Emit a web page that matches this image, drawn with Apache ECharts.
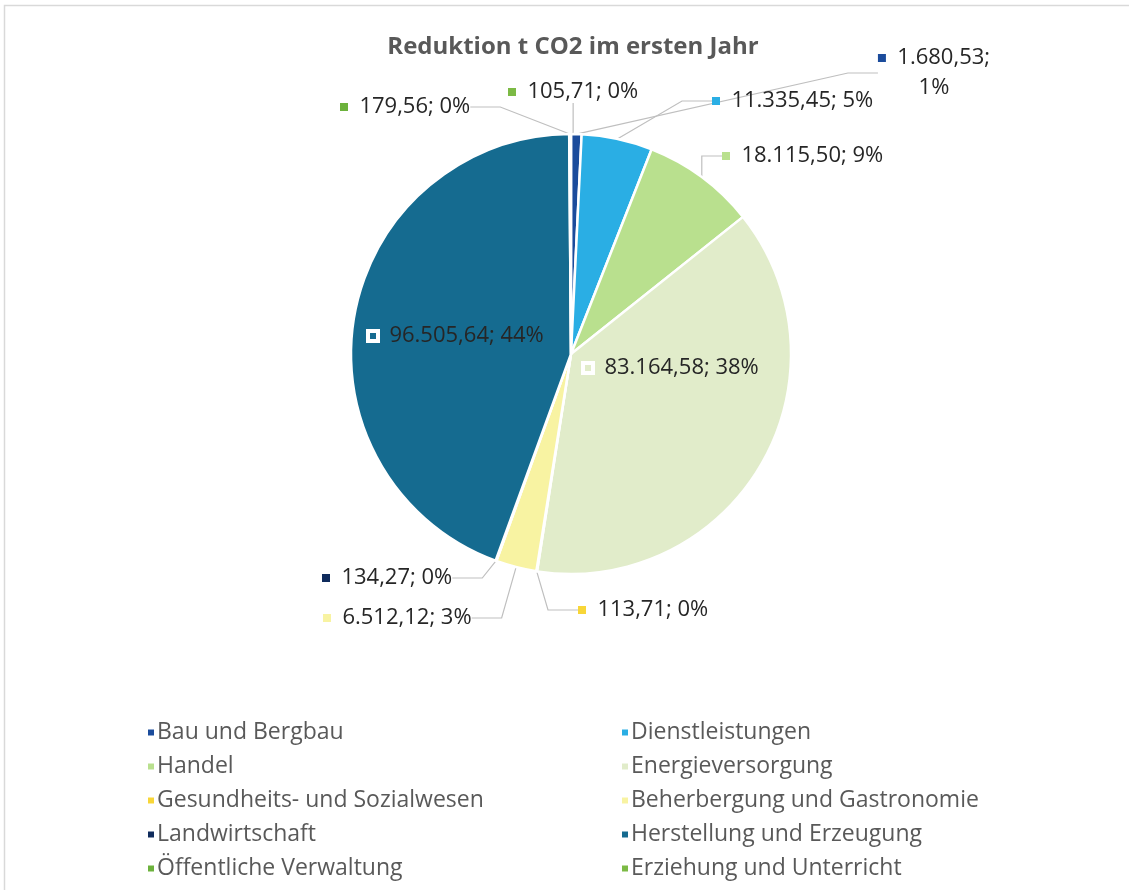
<!DOCTYPE html>
<html>
<head>
    <meta charset="utf-8"/>
    <title>Reduktion t CO2 im ersten Jahr</title>
    <script src="https://cdn.jsdelivr.net/npm/echarts@6/dist/echarts.min.js"></script>
    <style>
        html, body { margin: 0; padding: 0; background: #fff; }
        #chart { width: 1129px; height: 890px; }
    </style>
</head>
<body>
<div id="chart"></div>
<script>
    // Daten
    var branchen = ['Bau und Bergbau', 'Dienstleistungen', 'Handel', 'Energieversorgung',
        'Gesundheits- und Sozialwesen', 'Beherbergung und Gastronomie', 'Landwirtschaft',
        'Herstellung und Erzeugung', 'Öffentliche Verwaltung', 'Erziehung und Unterricht'];
    var reduktion = [1680.53, 11335.45, 18115.50, 83164.58, 113.71, 6512.12, 134.27, 96505.64, 179.56, 105.71];
    var farben = ['#1b4c9c', '#2aaee4', '#b9e08e', '#e1ecca', '#f8d638', '#f8f3a2',
        '#0f2b5c', '#156b90', '#6cb23c', '#7cba45'];

    // Label-Positionen (Pixel), wie in der Vorlage
    var labelPos = [[934, 73], [712, 101], [722, 156], [583, 368], [578, 610],
        [323, 618], [322, 578], [368, 336], [340, 107], [508, 92]];
    var innen = [3, 7];

    function zahlDE(v) {
        var teile = v.toFixed(2).split('.');
        var ganz = teile[0].replace(/\B(?=(\d{3})+(?!\d))/g, '.');
        return ganz + ',' + teile[1];
    }

    var rich = {
        v: { fontSize: 22, color: '#262626', fontFamily: 'Open Sans', lineHeight: 30 },
        w: { width: 10, height: 10, borderColor: '#fff', borderWidth: 2, backgroundColor: 'transparent' }
    };
    farben.forEach(function (c, i) {
        rich['m' + i] = { width: 8, height: 8, backgroundColor: c };
    });

    var daten = branchen.map(function (n, i) {
        var item = { name: n, value: reduktion[i], itemStyle: { color: farben[i] } };
        if (innen.indexOf(i) >= 0) {
            item.label = { position: 'inside' };
        }
        return item;
    });

    var chart = echarts.init(document.getElementById('chart'));
    var legendStyle = {
        orient: 'vertical',
        top: 716,
        itemWidth: 8,
        itemHeight: 8,
        itemGap: 11,
        icon: 'rect',
        textStyle: { fontSize: 23, color: '#595959', fontFamily: 'Open Sans', padding: [0, 0, 0, -3] }
    };

    chart.setOption({
        animation: false,
        title: {
            text: 'Reduktion t CO2 im ersten Jahr',
            left: 568,
            textAlign: 'center',
            top: 30,
            textStyle: { fontSize: 24, fontWeight: 'bold', color: '#595959', fontFamily: 'Open Sans' }
        },
        graphic: [{
            type: 'rect',
            shape: { x: 4.5, y: 5.5, width: 1140, height: 900 },
            style: { fill: 'none', stroke: '#d9d9d9', lineWidth: 1.5 },
            silent: true
        }],
        legend: [
            Object.assign({ left: 141, data: branchen.filter(function (b, i) { return i % 2 === 0; }) }, legendStyle),
            Object.assign({ left: 615, data: branchen.filter(function (b, i) { return i % 2 === 1; }) }, legendStyle)
        ],
        series: [{
            type: 'pie',
            center: [571, 354],
            radius: 220,
            startAngle: 90,
            percentPrecision: 0,
            itemStyle: { borderColor: '#fff', borderWidth: 2.5 },
            label: {
                position: 'outside',
                rich: rich,
                formatter: function (p) {
                    var i = p.dataIndex;
                    var txt = zahlDE(p.value) + '; ' + p.percent + '%';
                    if (innen.indexOf(i) >= 0) {
                        return '{w|}{v|  ' + txt + '}';
                    }
                    if (i === 0) {
                        return '{m0|}{v|  ' + zahlDE(p.value) + ';}\n{v|' + p.percent + '%}';
                    }
                    return '{m' + i + '|}{v|  ' + txt + '}';
                }
            },
            labelLine: { show: true, lineStyle: { color: '#bfbfbf', width: 1.2 } },
            labelLayout: function (p) {
                var pos = labelPos[p.dataIndex];
                return {
                    x: pos[0],
                    y: pos[1],
                    align: p.dataIndex === 0 ? 'center' : 'left',
                    verticalAlign: 'middle'
                };
            },
            data: daten
        }]
    });
</script>
</body>
</html>
